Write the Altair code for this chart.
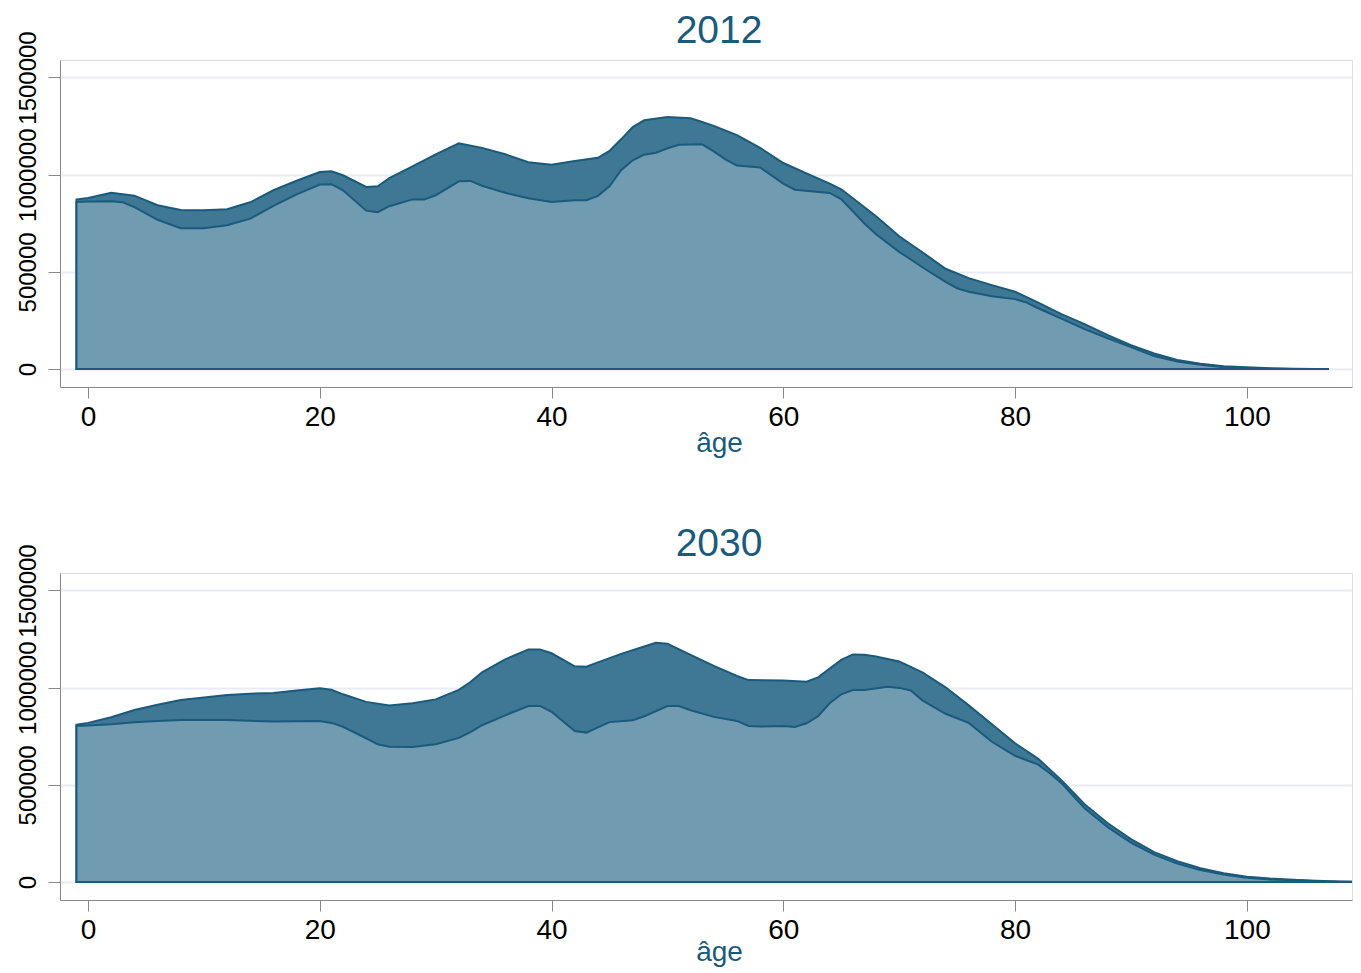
import altair as alt
import pandas as pd

# ---- data (population in thousands) ----
age_2012_upper = [-1,0,2,4,6,8,10,12,14,16,18,20,21,22,24,25,26,28,30,32,34,36,38,40,42,44,45,46,47,48,50,52,53,54,56,58,60,62,64,65,66,68,70,72,74,76,78,80,82,84,86,88,90,92,94,96,98,100,102,104,106,107]
pop_2012_upper = [872,880,907,892,843,818,817,822,858,920,969,1014,1018,997,937,940,982,1043,1105,1161,1138,1105,1064,1051,1071,1087,1122,1182,1245,1280,1297,1290,1271,1251,1203,1138,1060,1007,954,925,879,786,683,601,516,468,432,398,342,283,231,175,123,80,47,28,15,9,5,2.5,1,0.5]

age_2012_lower = [-1,0,2,3,4,6,8,10,12,14,16,18,20,21,22,24,25,26,28,29,30,32,33,34,36,38,40,42,43,44,45,46,47,48,49,50,51,53,54,55,56,58,60,61,64,65,66,67,68,70,71,72,74,75,76,78,80,81,82,84,86,88,90,92,94,96,98,100,102,104,106,107]
pop_2012_lower = [860,862,863,858,833,768,725,725,740,774,840,899,949,951,920,815,807,838,873,872,894,966,968,943,907,879,860,868,869,891,940,1023,1074,1103,1113,1136,1154,1156,1120,1079,1047,1037,954,923,906,874,812,749,694,603,564,524,449,416,398,375,360,342,313,260,206,159,113,67,39,23,10,5,2.5,1,0.3,0.2]

age_2030_upper = [-1,0,2,4,6,8,10,12,14,16,18,20,21,22,24,26,28,30,32,33,34,36,38,39,40,42,43,44,46,48,49,50,52,54,56,57,60,62,63,64,65,66,67,68,70,72,74,76,78,80,82,84,86,88,90,92,94,96,98,100,102,104,106,108,110]
pop_2030_upper = [810,819,848,885,912,937,950,963,969,973,985,997,989,966,927,909,920,940,989,1029,1079,1146,1197,1197,1177,1110,1108,1130,1174,1212,1231,1226,1169,1112,1060,1039,1037,1031,1053,1099,1143,1171,1169,1161,1135,1079,1002,909,812,714,634,524,401,303,221,154,108,72,46,28,18,12,7,3,1]

age_2030_lower = [-1,0,2,4,6,8,10,12,14,16,18,20,21,22,24,25,26,28,30,32,33,34,36,38,39,40,42,43,44,45,47,48,50,51,52,54,56,57,58,60,61,62,63,64,65,66,67,69,70,71,72,74,76,78,80,82,83,84,86,88,90,92,94,96,98,100,102,104,106,108,110]
pop_2030_lower = [803,805,812,822,829,834,834,834,830,826,827,829,819,799,740,709,696,695,709,742,772,807,858,906,906,876,777,769,796,823,832,853,906,906,884,850,829,803,800,803,798,817,853,920,966,988,988,1005,999,986,935,866,819,722,650,604,560,509,380,283,203,141,95,62,39,23,14,9,5,2,1]

x_ticks = [0, 20, 40, 60, 80, 100]
y_ticks = [0, 500000, 1000000, 1500000]

DARK = "#3f7894"
LIGHT = "#709bb1"
LINE = "#1a5a7c"
NAVY = "#1a5a7c"
GRID = "#e8ebf3"
FONT = "Liberation Sans"

PLOT_W = 1292
X_MIN = -2.42
X_MAX = X_MIN + PLOT_W / 11.588


def frame(ages, pops, series):
    return pd.DataFrame({"age": ages, "pop": [p * 1000 for p in pops], "series": series})


def panel(year, df_upper, df_lower, title_y):
    x = alt.X(
        "age:Q",
        scale=alt.Scale(domain=[X_MIN, X_MAX], nice=False, zero=False),
        axis=alt.Axis(
            values=x_ticks, title="âge", grid=False,
            tickSize=11, labelPadding=5, labelFontSize=28,
            titleFontSize=28, titleColor=NAVY, titleFontWeight="normal",
            titleX=659, titleY=title_y, titleAlign="center", titleBaseline="alphabetic",
        ),
    )
    y = alt.Y(
        "pop:Q",
        scale=alt.Scale(domain=[-92000, 1590000], nice=False, zero=False),
        axis=alt.Axis(
            values=y_ticks, title=None, format="d", grid=True,
            gridColor=GRID, gridWidth=2,
            tickSize=12, labelPadding=13, labelFontSize=24,
            labelAngle=270, labelAlign="center", labelBaseline="alphabetic",
            labelOverlap=False,
        ),
    )
    upper = alt.Chart(df_upper).mark_area(
        fill=DARK, fillOpacity=1, stroke=LINE, strokeWidth=2, clip=True
    ).encode(x=x, y=y, y2=alt.datum(0))
    lower = alt.Chart(df_lower).mark_area(
        fill=LIGHT, fillOpacity=1, stroke=LINE, strokeWidth=2, clip=True
    ).encode(x=x, y=y, y2=alt.datum(0))
    return alt.layer(upper, lower).properties(
        width=PLOT_W, height=327,
        title=alt.TitleParams(
            year, fontSize=39, color=NAVY, fontWeight="normal", font=FONT,
            anchor="middle", frame="group", dx=13, baseline="alphabetic", offset=-51,
        ),
    )


p1 = panel("2012", frame(age_2012_upper, pop_2012_upper, "haut"), frame(age_2012_lower, pop_2012_lower, "bas"), 64)
p2 = panel("2030", frame(age_2030_upper, pop_2030_upper, "haut"), frame(age_2030_lower, pop_2030_lower, "bas"), 60)

chart = alt.vconcat(p1, p2, spacing=66).properties(
    padding={"left": 7, "top": 3, "right": 0, "bottom": 0}
).configure_view(stroke=None).configure_axis(
    domainColor="black", domainWidth=1.5, tickColor="black", tickWidth=1.5,
    labelColor="black", labelFont=FONT, titleFont=FONT,
).configure(background="white")

chart.save("out.html", embed_options={"renderer": "svg", "actions": False})
